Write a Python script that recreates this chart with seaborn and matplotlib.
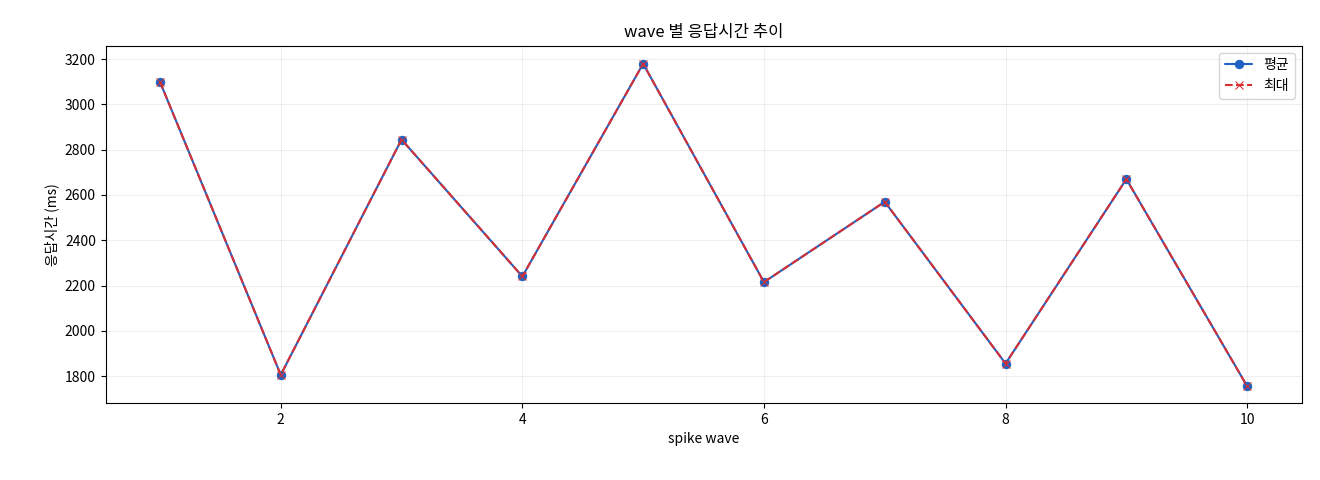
import matplotlib
matplotlib.use("Agg")
import matplotlib.pyplot as plt
import seaborn as sns
import pandas as pd

waves = [1, 2, 3, 4, 5, 6, 7, 8, 9, 10]
avg_ms = [3100, 1805, 2845, 2240, 3180, 2215, 2570, 1855, 2670, 1755]
max_ms = [3100, 1805, 2845, 2240, 3180, 2215, 2570, 1855, 2670, 1755]

sns.set_style("ticks")
plt.rcParams['font.family'] = ['Noto Sans CJK KR', 'DejaVu Sans']
for k in ["text.color", "axes.labelcolor", "xtick.color", "ytick.color", "axes.edgecolor"]:
    plt.rcParams[k] = "black"

df = pd.DataFrame({"wave": waves, "avg": avg_ms, "max": max_ms})
fig, ax = plt.subplots(figsize=(13.2, 4.8), dpi=100)
fig.subplots_adjust(left=0.08, right=0.986, top=0.905, bottom=0.16)

sns.lineplot(data=df, x="wave", y="avg", ax=ax)
sns.lineplot(data=df, x="wave", y="max", ax=ax)
l1, l2 = ax.get_lines()[:2]
l1.set(color="#1f62c4", marker="o", markersize=6, markeredgecolor="#1f62c4",
       linewidth=1.5, linestyle="-", label="평균")
l2.set(color="#d62f34", marker="x", markersize=6, markeredgecolor="#d62f34",
       linewidth=1.5, linestyle="--", label="최대")

ax.set_title("wave 별 응답시간 추이", fontsize=12)
ax.set_xlabel("spike wave", fontsize=10)
ax.set_ylabel("응답시간 (ms)", fontsize=10)
ax.set_ylim(1680, 3260)
ax.set_xlim(0.55, 10.45)
ax.set_yticks(range(1800, 3201, 200))
ax.set_xticks([2, 4, 6, 8, 10])
ax.grid(True, alpha=0.3)
ax.tick_params(labelsize=10)
ax.legend(handles=[l1, l2], loc="upper right", fontsize=10)
fig.savefig("out.png")
